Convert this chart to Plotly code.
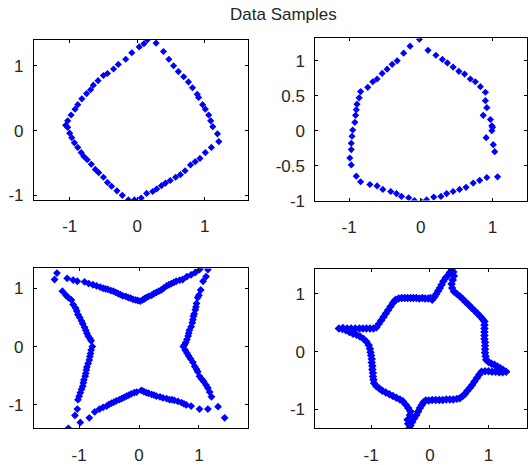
import plotly.graph_objects as go

# ---------------- data ----------------
# Panel 1 (top-left)
p1_x = [0.15, 0.28, 0.39, 0.47, 0.54, 0.61, 0.69, 0.76, 0.82, 0.89, 0.91, 0.97, 1.01, 1.06, 1.09, 1.12, 1.19, 1.21,
        1.10, 1.01, 0.93, 0.86, 0.79, 0.71, 0.64, 0.57, 0.49, 0.42, 0.36, 0.29, 0.23, 0.14, 0.06, -0.04, -0.13,
        -0.22, -0.30, -0.38, -0.44, -0.50, -0.57, -0.62, -0.68, -0.74, -0.79, -0.83, -0.88, -0.93, -0.97, -1.00,
        -1.03, -1.06, -1.03, -0.98, -0.92, -0.88, -0.82, -0.75, -0.69, -0.65, -0.58, -0.50, -0.44, -0.35, -0.28,
        -0.17, -0.08, 0.03, 0.10]
p1_y = [1.40, 1.35, 1.22, 1.10, 1.00, 0.91, 0.83, 0.75, 0.66, 0.56, 0.51, 0.40, 0.33, 0.24, 0.15, 0.06, -0.05, -0.17,
        -0.26, -0.34, -0.43, -0.48, -0.53, -0.62, -0.68, -0.72, -0.77, -0.81, -0.85, -0.90, -0.94, -0.97, -1.04, -1.07, -1.07,
        -1.00, -0.93, -0.86, -0.80, -0.72, -0.65, -0.60, -0.52, -0.45, -0.40, -0.34, -0.26, -0.19, -0.11, -0.04,
        0.05, 0.08, 0.15, 0.24, 0.33, 0.40, 0.49, 0.57, 0.63, 0.70, 0.77, 0.85, 0.88, 0.95, 1.02,
        1.10, 1.20, 1.29, 1.34]

# Panel 2 (top-right)
p2_x = [-0.02, -0.15, -0.24, -0.33, -0.40, -0.47, -0.54, -0.61, -0.67, -0.74, -0.84, -0.86, -0.89, -0.90, -0.91,
        -0.92, -0.95, -0.96, -0.97, -0.97, -0.99, -0.97, -0.90, -0.84, -0.71, -0.61, -0.53, -0.42, -0.34, -0.27,
        -0.17, -0.09, 0.01, 0.08, 0.18, 0.28, 0.36, 0.45, 0.54, 0.63, 0.73, 0.82, 0.92, 1.07,
        0.10, 0.21, 0.30, 0.37, 0.45, 0.53, 0.61, 0.69, 0.76, 0.83, 0.90, 0.90, 0.92, 0.87, 0.97, 0.99, 1.00,
        0.99, 0.91, 1.01, 1.03]
p2_y = [1.31, 1.21, 1.11, 1.00, 0.95, 0.88, 0.82, 0.74, 0.70, 0.62, 0.56, 0.47, 0.38, 0.30, 0.22,
        0.12, 0.01, -0.08, -0.18, -0.27, -0.39, -0.49, -0.65, -0.73, -0.77, -0.79, -0.84, -0.87, -0.90, -0.94,
        -0.96, -1.00, -1.02, -0.99, -0.95, -0.94, -0.90, -0.87, -0.84, -0.81, -0.75, -0.71, -0.67, -0.66,
        1.15, 1.08, 1.02, 0.97, 0.91, 0.85, 0.81, 0.74, 0.70, 0.63, 0.55, 0.43, 0.33, 0.22, 0.16, 0.07, 0.05,
        0.00, -0.10, -0.20, -0.30]

# Panel 3 (bottom-left)
p3_x = [-1.37, -1.41, -1.20, -1.10, -1.03, -0.91, -0.84, -0.77, -0.71, -0.65, -0.60, -0.56, -0.52, -0.47, -0.43,
        -0.39, -0.35, -0.31, -0.27, -0.22, -0.18, -0.14, -0.10, -0.06, -0.02, 0.02, 0.06,
        0.09, 0.12, 0.16, 0.21, 0.25, 0.29, 0.33, 0.37, 0.41, 0.46, 0.50, 0.54, 0.58, 0.62, 0.68, 0.73, 0.80, 0.87,
        0.94, 1.01, 1.04, 1.15, 1.12,
        1.07, 1.03, 1.00, 0.98, 0.96, 0.95, 0.94, 0.92, 0.91, 0.90, 0.89, 0.87, 0.84, 0.83, 0.82, 0.80, 0.78, 0.76, 0.74,
        0.77, 0.80, 0.83, 0.86, 0.90, 0.93, 0.96, 0.98, 1.01, 1.05, 1.08, 1.12, 1.15, 1.18, 1.21, 1.32, 1.43,
        1.15, 1.01,
        0.04, 0.08, 0.12, 0.16, 0.21, 0.25, 0.29, 0.35, 0.40, 0.46, 0.51, 0.55, 0.59, 0.65, 0.71, 0.75, 0.79, 0.87,
        -0.04, -0.08, -0.13, -0.17, -0.21, -0.25, -0.29, -0.33, -0.38, -0.42, -0.46, -0.50, -0.54, -0.60, -0.66,
        -0.74, -0.83, -0.98, -1.18,
        -1.07, -1.03, -1.02, -1.00, -0.98, -0.96, -0.94, -0.93, -0.92, -0.90, -0.89, -0.88, -0.87, -0.85, -0.83,
        -0.82, -0.81, -0.80, -0.78,
        -0.80, -0.82, -0.85, -0.87, -0.89, -0.91, -0.94, -0.96, -0.99, -1.02, -1.04, -1.06, -1.10, -1.13, -1.18,
        -1.22, -1.28]
p3_y = [1.26, 1.15, 1.17, 1.14, 1.12, 1.11, 1.08, 1.06, 1.04, 1.02, 1.00, 0.99, 0.98, 0.96, 0.95,
        0.93, 0.91, 0.89, 0.87, 0.86, 0.84, 0.83, 0.81, 0.80, 0.79, 0.78, 0.80,
        0.82, 0.84, 0.86, 0.88, 0.91, 0.93, 0.95, 0.97, 1.00, 1.04, 1.06, 1.08, 1.10, 1.12, 1.14, 1.15, 1.20, 1.23,
        1.27, 1.32, 1.36, 1.32, 1.20,
        1.12, 0.97, 0.88, 0.84, 0.74, 0.68, 0.63, 0.56, 0.52, 0.46, 0.41, 0.34, 0.28, 0.23, 0.18, 0.12, 0.07, 0.03, 0.00,
        -0.06, -0.11, -0.16, -0.21, -0.27, -0.34, -0.39, -0.43, -0.51, -0.56, -0.60, -0.66, -0.71, -0.78, -0.86, -1.03, -1.22,
        -1.07, -1.07,
        -0.75, -0.77, -0.79, -0.80, -0.82, -0.83, -0.85, -0.86, -0.88, -0.89, -0.91, -0.91, -0.92, -0.94, -0.96, -0.98, -1.00, -1.02,
        -0.78, -0.79, -0.81, -0.83, -0.85, -0.87, -0.89, -0.91, -0.93, -0.95, -0.97, -0.99, -1.02, -1.04, -1.07,
        -1.12, -1.22, -1.30, -1.40,
        -1.18, -1.07, -0.91, -0.85, -0.79, -0.73, -0.68, -0.62, -0.57, -0.51, -0.46, -0.40, -0.35, -0.29, -0.23,
        -0.17, -0.12, -0.06, 0.00,
        0.10, 0.14, 0.18, 0.23, 0.28, 0.33, 0.39, 0.44, 0.50, 0.55, 0.61, 0.66, 0.72, 0.80, 0.84,
        0.88, 0.95]

# Panel 4 (bottom-right)
p4_x = [-0.58, -0.53, -0.48, -0.43, -0.38, -0.33, -0.28, -0.23, -0.18, -0.13, -0.08, -0.03, 0.01, 0.04,
        0.08, 0.11, 0.14, 0.17, 0.20, 0.23, 0.27, 0.31, 0.34, 0.37, 0.40, 0.41, 0.39, 0.37, 0.38, 0.41,
        0.46, 0.51, 0.56, 0.61, 0.66, 0.71, 0.76, 0.81, 0.86, 0.90, 0.93,
        0.93, 0.93, 0.93, 0.93, 0.93, 0.94, 0.94, 0.94, 0.94, 0.95, 0.96, 1.00,
        1.05, 1.10, 1.15, 1.20, 1.25, 1.30, 1.24, 1.18, 1.12, 1.06, 1.00, 0.94, 0.88,
        0.84, 0.80, 0.76, 0.72, 0.68, 0.64, 0.60, 0.56, 0.51,
        0.46, 0.40, 0.34, 0.28, 0.22, 0.16, 0.10, 0.04, -0.02, -0.07, -0.11,
        -0.14, -0.17, -0.20, -0.23, -0.27, -0.30, -0.33, -0.35, -0.37, -0.38, -0.34, -0.33, -0.37, -0.41, -0.46,
        -0.51, -0.57, -0.63, -0.69, -0.75, -0.81, -0.86, -0.91, -0.95,
        -0.96, -0.97, -0.97, -0.98, -0.98, -0.99, -0.99, -1.00, -1.01, -1.02, -1.04, -1.08, -1.13,
        -1.19, -1.25, -1.31, -1.37, -1.43, -1.49, -1.55, -1.48, -1.41, -1.34, -1.27, -1.20, -1.14, -1.08, -1.02,
        -0.96, -0.91,
        -0.87, -0.83, -0.79, -0.75, -0.71, -0.67, -0.63, -0.60]
p4_y = [0.90, 0.92, 0.93, 0.93, 0.93, 0.93, 0.93, 0.93, 0.92, 0.93, 0.92, 0.92, 0.93, 0.90,
        0.95, 1.00, 1.05, 1.10, 1.16, 1.22, 1.28, 1.32, 1.37, 1.43, 1.38, 1.31, 1.24, 1.17, 1.10, 1.04,
        1.00, 0.96, 0.91, 0.86, 0.81, 0.76, 0.71, 0.66, 0.61, 0.56, 0.52,
        0.46, 0.40, 0.34, 0.28, 0.22, 0.16, 0.10, 0.04, -0.02, -0.08, -0.14, -0.18,
        -0.21, -0.23, -0.26, -0.29, -0.32, -0.35, -0.36, -0.36, -0.35, -0.35, -0.34, -0.34, -0.35,
        -0.40, -0.46, -0.52, -0.58, -0.63, -0.68, -0.73, -0.77, -0.81,
        -0.82, -0.83, -0.83, -0.83, -0.84, -0.84, -0.84, -0.84, -0.85, -0.85, -0.88,
        -0.93, -0.98, -1.04, -1.10, -1.16, -1.22, -1.28, -1.33, -1.25, -1.18, -1.10, -1.04, -0.98, -0.92, -0.86,
        -0.83, -0.80, -0.77, -0.74, -0.71, -0.68, -0.64, -0.60, -0.55,
        -0.49, -0.43, -0.37, -0.31, -0.25, -0.19, -0.13, -0.07, -0.01, 0.05, 0.11, 0.17, 0.22,
        0.26, 0.29, 0.31, 0.34, 0.37, 0.39, 0.40, 0.41, 0.40, 0.40, 0.40, 0.40, 0.40, 0.40, 0.40,
        0.40, 0.42,
        0.48, 0.54, 0.60, 0.66, 0.72, 0.78, 0.84, 0.88]

x_ticks = [-1, 0, 1]
y_ticks_std = [-1, 0, 1]
y_ticks_p2 = [-1, -0.5, 0, 0.5, 1]
title_text = "Data Samples"

# ---------------- figure ----------------
W, H = 528, 465
fig = go.Figure()

panels = [
    (p1_x, p1_y, "x", "y", 5.5),
    (p2_x, p2_y, "x2", "y2", 5.5),
    (p3_x, p3_y, "x3", "y3", 6),
    (p4_x, p4_y, "x4", "y4", 6.5),
]
for px, py, xa, ya, ms in panels:
    fig.add_trace(go.Scatter(
        x=px, y=py, xaxis=xa, yaxis=ya, mode="markers",
        marker=dict(symbol="diamond", size=ms, color="#0000ff", line=dict(width=0)),
        showlegend=False, hoverinfo="skip"))

def px_to_fx(p):
    return p / W

def px_to_fy(p):
    return (H - p) / H

font = dict(family="Liberation Sans, Arial, sans-serif", size=17, color="#262626")

def axis_common():
    return dict(showgrid=False, zeroline=False, showline=True, linecolor="black", linewidth=1,
                mirror="ticks", ticks="inside", ticklen=3, tickcolor="black", tickwidth=1,
                tickfont=font, fixedrange=True)

# (left, right, top, bottom) pixel boxes and ranges
boxes = {
    1: dict(l=34, r=248.3, t=40.7, b=204.3, xr=[-1.53, 1.64], yr=[-1.07, 1.40], yt=y_ticks_std),
    2: dict(l=316, r=528, t=39.3, b=205, xr=[-1.47, 1.48], yr=[-1.0, 1.32], yt=y_ticks_p2),
    3: dict(l=34, r=248.3, t=274.3, b=437.7, xr=[-1.755, 1.817], yr=[-1.40, 1.34], yt=y_ticks_std),
    4: dict(l=316, r=528, t=275, b=437.7, xr=[-1.95, 1.655], yr=[-1.33, 1.43], yt=y_ticks_std),
}
layout_axes = {}
for i, bx in boxes.items():
    sfx = "" if i == 1 else str(i)
    xa = axis_common()
    xa.update(domain=[px_to_fx(bx["l"]), px_to_fx(bx["r"])], range=bx["xr"],
              tickvals=x_ticks, ticktext=[str(v) for v in x_ticks], anchor="y" + sfx,
              ticklabelstandoff=11)
    ya = axis_common()
    ya.update(domain=[px_to_fy(bx["b"]), px_to_fy(bx["t"])], range=bx["yr"],
              tickvals=bx["yt"], ticktext=[("%g" % v) for v in bx["yt"]], anchor="x" + sfx,
              ticklabelstandoff=6)
    layout_axes["xaxis" + sfx] = xa
    layout_axes["yaxis" + sfx] = ya

fig.update_layout(
    width=W, height=H, margin=dict(l=0, r=0, t=0, b=0),
    paper_bgcolor="white", plot_bgcolor="white",
    annotations=[dict(text=title_text, x=284 / W, y=px_to_fy(15), xref="paper", yref="paper",
                      xanchor="center", yanchor="middle", showarrow=False,
                      font=dict(family="Liberation Sans, Arial, sans-serif", size=17, color="#262626"))],
    **layout_axes)

fig.write_html("out.html")
